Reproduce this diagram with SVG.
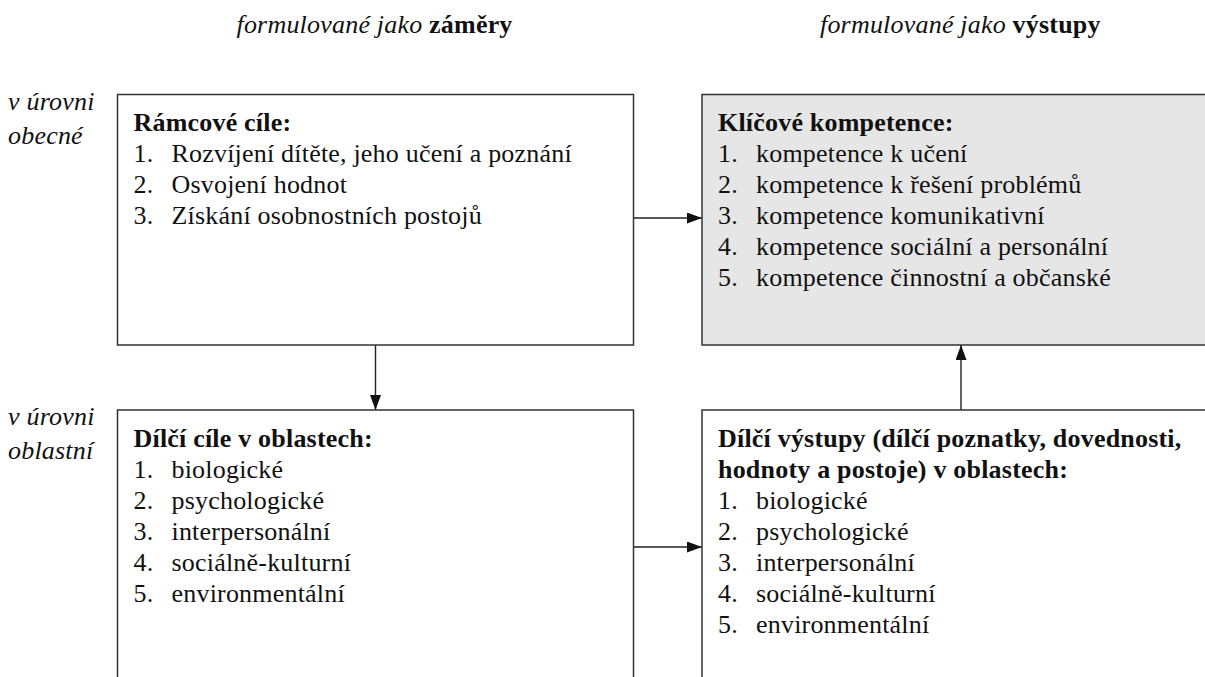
<svg xmlns="http://www.w3.org/2000/svg" width="1205" height="677" viewBox="0 0 1205 677">
<style>
  .box{fill:#ffffff;stroke:#333333;stroke-width:1.5}
  .grey{fill:#e6e6e6}
  .t{font-family:"Liberation Serif","Times New Roman",serif;font-size:26px;letter-spacing:0.2px;fill:#111111}
  .b{font-weight:bold}
  .i{font-style:italic}
  .conn{stroke:#222222;stroke-width:1.4;fill:none;marker-end:url(#ah)}
</style>
<defs>
  <marker id="ah" markerUnits="userSpaceOnUse" markerWidth="15" markerHeight="11" refX="15" refY="5.5" orient="auto">
    <path d="M0,0 L15,5.5 L0,11 z" fill="#111111"/>
  </marker>
</defs>
<rect width="1205" height="677" fill="#ffffff"/>

<g id="headers">
  <text class="t i" x="236.5" y="33">formulované jako <tspan class="b" font-style="normal">záměry</tspan></text>
  <text class="t i" x="820" y="33">formulované jako <tspan class="b" font-style="normal">výstupy</tspan></text>
</g>

<g id="levels">
  <text class="t i" x="8" y="110">v úrovni</text>
  <text class="t i" x="8" y="144">obecné</text>
  <text class="t i" x="8" y="425">v úrovni</text>
  <text class="t i" x="8" y="459">oblastní</text>
</g>

<g id="connectors">
  <path class="conn" d="M633.5 218 H702"/>
  <path class="conn" d="M375.5 345 V410"/>
  <path class="conn" d="M633.5 547 H702"/>
  <path class="conn" d="M961 410 V345"/>
</g>

<g id="ramcove-cile">
  <rect class="box" x="117.5" y="94.5" width="516" height="250.5"/>
  <text class="t b" x="133.5" y="131">Rámcové cíle:</text>
  <text class="t" x="133.5" y="162">1.</text><text class="t" x="171.5" y="162">Rozvíjení dítěte, jeho učení a poznání</text>
  <text class="t" x="133.5" y="193">2.</text><text class="t" x="171.5" y="193">Osvojení hodnot</text>
  <text class="t" x="133.5" y="224">3.</text><text class="t" x="171.5" y="224">Získání osobnostních postojů</text>
</g>

<g id="klicove-kompetence">
  <rect class="box grey" x="702" y="94.5" width="515" height="250.5"/>
  <text class="t b" x="718" y="131">Klíčové kompetence:</text>
  <text class="t" x="718" y="162">1.</text><text class="t" x="756" y="162">kompetence k učení</text>
  <text class="t" x="718" y="193">2.</text><text class="t" x="756" y="193">kompetence k řešení problémů</text>
  <text class="t" x="718" y="224">3.</text><text class="t" x="756" y="224">kompetence komunikativní</text>
  <text class="t" x="718" y="255">4.</text><text class="t" x="756" y="255">kompetence sociální a personální</text>
  <text class="t" x="718" y="286">5.</text><text class="t" x="756" y="286">kompetence činnostní a občanské</text>
</g>

<g id="dilci-cile">
  <rect class="box" x="117.5" y="410" width="516" height="290"/>
  <text class="t b" x="133.5" y="447">Dílčí cíle v oblastech:</text>
  <text class="t" x="133.5" y="478">1.</text><text class="t" x="171.5" y="478">biologické</text>
  <text class="t" x="133.5" y="509">2.</text><text class="t" x="171.5" y="509">psychologické</text>
  <text class="t" x="133.5" y="540">3.</text><text class="t" x="171.5" y="540">interpersonální</text>
  <text class="t" x="133.5" y="571">4.</text><text class="t" x="171.5" y="571">sociálně-kulturní</text>
  <text class="t" x="133.5" y="602">5.</text><text class="t" x="171.5" y="602">environmentální</text>
</g>

<g id="dilci-vystupy">
  <rect class="box" x="702" y="410" width="515" height="290"/>
  <text class="t b" x="718" y="447">Dílčí výstupy (dílčí poznatky, dovednosti,</text>
  <text class="t b" x="718" y="478">hodnoty a postoje) v oblastech:</text>
  <text class="t" x="718" y="509">1.</text><text class="t" x="756" y="509">biologické</text>
  <text class="t" x="718" y="540">2.</text><text class="t" x="756" y="540">psychologické</text>
  <text class="t" x="718" y="571">3.</text><text class="t" x="756" y="571">interpersonální</text>
  <text class="t" x="718" y="602">4.</text><text class="t" x="756" y="602">sociálně-kulturní</text>
  <text class="t" x="718" y="633">5.</text><text class="t" x="756" y="633">environmentální</text>
</g>
</svg>
